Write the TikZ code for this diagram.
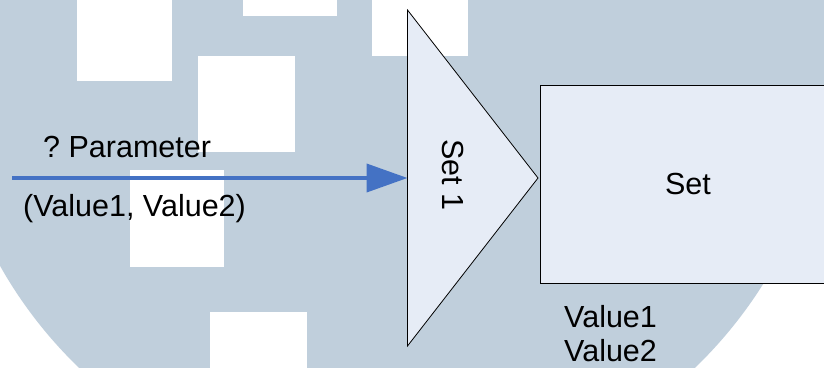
\documentclass[tikz,border=0pt]{standalone}
\usepackage{fontspec}
\setmainfont{Liberation Sans}
\usetikzlibrary{arrows.meta}
\definecolor{wmblue}{RGB}{192,207,220}
\definecolor{boxfill}{RGB}{230,236,246}
\definecolor{flowblue}{RGB}{68,114,196}
\tikzset{
  lbl/.style={inner sep=0pt, font=\fontsize{30.5}{35}\selectfont\frenchspacing, text=black},
  shapebox/.style={draw=black, line width=0.8pt, fill=boxfill},
  flow/.style={draw=flowblue, line width=4pt, -{Triangle[length=41pt,width=28pt]}},
  wmsq/.style={fill=white},
}
\begin{document}
\begin{tikzpicture}[x=1pt,y=-1pt]
  \clip (0,0) rectangle (824,367);
  % background disc with light squares
  \fill[white] (0,0) rectangle (824,367);
  \fill[wmblue] (387,48) circle[radius=444];
  \begin{scope}
    \clip (387,48) circle[radius=444];
    \fill[wmsq] (77,-5) rectangle (172,81);
    \fill[wmsq] (243,-5) rectangle (337,16);
    \fill[wmsq] (198,56) rectangle (295,152);
    \fill[wmsq] (372,-5) rectangle (468,56);
    \fill[wmsq] (130,170) rectangle (224,267);
    \fill[wmsq] (210,312) rectangle (307,372);
  \end{scope}

  % rectangle running off the right edge
  \draw[shapebox] (860,85) -- (540,85) -- (540,283) -- (860,283);
  \node[lbl, anchor=base] (set) at (688,194) {Set};

  % triangle block
  \draw[shapebox] (407.5,10) -- (538,178) -- (407.5,346) -- cycle;
  \coordinate (setin) at (407.5,178);
  \node[lbl, rotate=-90] (set1) at (452.5,175) {Set 1};

  % incoming parameter
  \coordinate (src) at (12,178);
  \draw[flow] (src) -- (setin);
  \node[lbl, anchor=base west] (param) at (43,157) {? Parameter};
  \node[lbl, anchor=base west] (vals) at (23,216) {(Value1, Value2)};

  % values below the set
  \node[lbl, anchor=base west] (v1) at (564,327) {Value1};
  \node[lbl, anchor=base west] (v2) at (564,361) {Value2};
\end{tikzpicture}
\end{document}
